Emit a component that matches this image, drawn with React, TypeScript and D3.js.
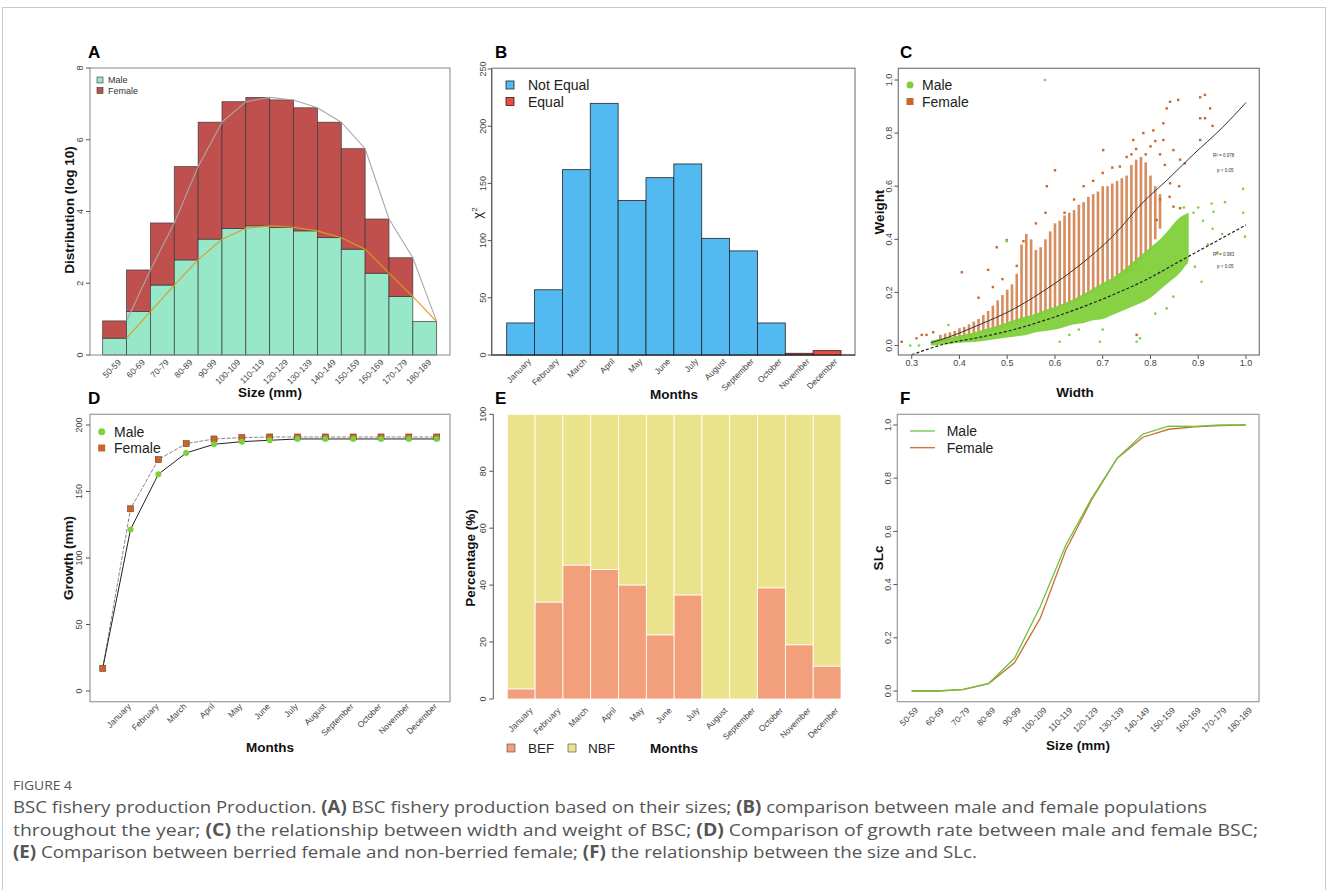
import React from "react";
import * as d3 from "d3";

const FONT = "'Liberation Sans', Arial, Helvetica, sans-serif";

// ---- panel A: size distribution (log10), stacked
const sizeClasses = ["50-59", "60-69", "70-79", "80-89", "90-99", "100-109", "110-119", "120-129", "130-139", "140-149", "150-159", "160-169", "170-179", "180-189"];
const maleDist = [0.47, 1.21, 1.95, 2.65, 3.23, 3.53, 3.6, 3.56, 3.46, 3.27, 2.95, 2.28, 1.63, 0.93];
const femaleDist = [0.48, 1.16, 1.73, 2.6, 3.26, 3.53, 3.58, 3.55, 3.43, 3.22, 2.8, 1.51, 1.08, 0];
const distTicks = [0, 2, 4, 6, 8];

// ---- panel B: chi-square by month
const months = ["January", "February", "March", "April", "May", "June", "July", "August", "September", "October", "November", "December"];
const chiValues = [28, 57, 162, 220, 135, 155, 167, 102, 91, 28, 1.5, 3.8];
const chiGroup = ["Not Equal", "Not Equal", "Not Equal", "Not Equal", "Not Equal", "Not Equal", "Not Equal", "Not Equal", "Not Equal", "Not Equal", "Equal", "Equal"];
const chiTicks = [0, 50, 100, 150, 200, 250];

// ---- panel C: width vs weight
const widthTicks = [0.3, 0.4, 0.5, 0.6, 0.7, 0.8, 0.9, 1.0];
const weightTicks = [0, 0.2, 0.4, 0.6, 0.8, 1.0];
const femBandW = [0.36, 0.37, 0.38, 0.39, 0.40, 0.41, 0.42, 0.43, 0.44, 0.45, 0.46, 0.47, 0.48, 0.49, 0.50, 0.51, 0.52, 0.53, 0.54, 0.55, 0.56, 0.57, 0.58, 0.59, 0.60, 0.61, 0.62, 0.63, 0.64, 0.65, 0.66, 0.67, 0.68, 0.69, 0.70, 0.71, 0.72, 0.73, 0.74, 0.75, 0.76, 0.77, 0.78, 0.79, 0.80, 0.81, 0.82];
const femBandHi = [0.04, 0.045, 0.05, 0.055, 0.065, 0.07, 0.08, 0.09, 0.1, 0.115, 0.13, 0.15, 0.17, 0.19, 0.21, 0.23, 0.27, 0.38, 0.42, 0.4, 0.36, 0.37, 0.4, 0.43, 0.46, 0.47, 0.49, 0.5, 0.51, 0.53, 0.54, 0.56, 0.57, 0.58, 0.6, 0.6, 0.61, 0.62, 0.63, 0.64, 0.68, 0.7, 0.71, 0.69, 0.64, 0.6, 0.57];
const femBandLo = [0.015, 0.018, 0.02, 0.024, 0.028, 0.03, 0.034, 0.038, 0.044, 0.048, 0.052, 0.056, 0.06, 0.065, 0.07, 0.075, 0.08, 0.085, 0.09, 0.095, 0.1, 0.11, 0.12, 0.125, 0.13, 0.14, 0.15, 0.155, 0.16, 0.17, 0.18, 0.19, 0.2, 0.21, 0.22, 0.23, 0.24, 0.25, 0.26, 0.27, 0.28, 0.3, 0.32, 0.34, 0.36, 0.4, 0.44];
const maleBandW = [0.34, 0.36, 0.38, 0.40, 0.42, 0.44, 0.46, 0.48, 0.50, 0.52, 0.54, 0.56, 0.58, 0.60, 0.62, 0.64, 0.66, 0.68, 0.70, 0.72, 0.74, 0.76, 0.78, 0.80, 0.82, 0.84, 0.86, 0.88];
const maleBandLo = [0.0, 0.003, 0.006, 0.01, 0.012, 0.015, 0.02, 0.025, 0.03, 0.035, 0.04, 0.05, 0.055, 0.06, 0.07, 0.08, 0.085, 0.095, 0.1, 0.115, 0.13, 0.145, 0.16, 0.18, 0.21, 0.24, 0.27, 0.32];
const maleBandHi = [0.018, 0.025, 0.03, 0.038, 0.045, 0.055, 0.065, 0.075, 0.088, 0.1, 0.11, 0.12, 0.135, 0.145, 0.16, 0.175, 0.195, 0.215, 0.235, 0.255, 0.28, 0.31, 0.34, 0.37, 0.4, 0.44, 0.48, 0.5];
const femPtsW = [0.279, 0.31, 0.321, 0.331, 0.345, 0.405, 0.46, 0.478, 0.499, 0.534, 0.44, 0.47, 0.49, 0.52, 0.583, 0.6, 0.62, 0.64, 0.701, 0.736, 0.75, 0.764, 0.785, 0.806, 0.827, 0.834, 0.841, 0.858, 0.904, 0.914, 0.904, 0.914, 0.925, 0.93, 0.904, 0.827, 0.848, 0.862, 0.872, 0.841, 0.848, 0.862, 0.813, 0.771, 0.8, 0.79, 0.82, 0.81, 0.77, 0.76, 0.83, 0.82, 0.84, 0.86, 0.7, 0.72, 0.68, 0.66, 0.58, 0.56];
const femPtsH = [0.014, 0.027, 0.04, 0.04, 0.05, 0.276, 0.285, 0.37, 0.397, 0.393, 0.18, 0.22, 0.25, 0.3, 0.6, 0.66, 0.5, 0.55, 0.736, 0.674, 0.71, 0.774, 0.8, 0.81, 0.837, 0.893, 0.918, 0.925, 0.935, 0.944, 0.856, 0.856, 0.893, 0.827, 0.774, 0.774, 0.736, 0.7, 0.686, 0.611, 0.523, 0.517, 0.473, 0.04, 0.75, 0.72, 0.72, 0.77, 0.74, 0.72, 0.68, 0.55, 0.56, 0.6, 0.65, 0.67, 0.62, 0.6, 0.5, 0.46];
const malePtsW = [0.579, 0.499, 0.377, 0.297, 0.315, 0.994, 0.994, 0.998, 0.956, 0.932, 0.928, 0.907, 0.893, 0.875, 0.848, 0.834, 0.81, 0.771, 0.778, 0.694, 0.63, 0.61, 0.7, 0.65, 0.9, 0.91, 0.93, 0.95, 0.89, 0.87, 0.92, 0.94];
const malePtsH = [1.0, 0.393, 0.077, 0.0, 0.0, 0.59, 0.5, 0.41, 0.54, 0.504, 0.535, 0.24, 0.297, 0.31, 0.184, 0.14, 0.12, 0.014, 0.027, 0.014, 0.04, 0.014, 0.06, 0.06, 0.52, 0.47, 0.44, 0.42, 0.5, 0.52, 0.38, 0.35];
const femCurveW = [0.34, 0.37, 0.44, 0.51, 0.58, 0.65, 0.72, 0.79, 0.83, 0.89, 0.95, 1.0];
const femCurveH = [0.01, 0.027, 0.077, 0.134, 0.21, 0.3, 0.41, 0.55, 0.615, 0.72, 0.82, 0.915];
const maleCurveW = [0.3, 0.37, 0.44, 0.51, 0.58, 0.65, 0.72, 0.79, 0.86, 0.93, 1.0];
const maleCurveH = [-0.035, 0.006, 0.03, 0.058, 0.096, 0.14, 0.19, 0.247, 0.316, 0.385, 0.454];

// ---- panel D: growth
const growthLabels = ["", ...months];
const growthFemale = [17, 137, 174, 186, 189.5, 190.5, 191, 191, 191, 191, 191, 191, 191];
const growthMale = [17, 121.5, 163, 179, 185.5, 187.5, 188.5, 189.5, 189.5, 189.5, 189.5, 189.5, 189.5];
const growthTicks = [0, 50, 100, 150, 200];

// ---- panel E: berried vs non-berried (%)
const befPct = [3.5, 34, 47, 45.5, 40, 22.5, 36.5, 0, 0, 39, 19, 11.5];
const pctTicks = [0, 20, 40, 60, 80, 100];

// ---- panel F: SLc
const slcMale = [0, 0, 0.006, 0.029, 0.123, 0.317, 0.549, 0.724, 0.875, 0.966, 0.996, 0.995, 1.0, 1.0];
const slcFemale = [0, 0, 0.005, 0.028, 0.106, 0.273, 0.53, 0.718, 0.875, 0.954, 0.984, 0.993, 0.998, 1.0];
const slcTicks = [0, 0.2, 0.4, 0.6, 0.8, 1.0];

const GREEN = "#7fcf3a";
const BROWN = "#c8662c";

const YAxis = ({ x, scale, ticks, labelX, fmt = (t: number) => String(t), line = true }: any) => (
  <g>
    {line && <line x1={x} x2={x} y1={scale(ticks[0])} y2={scale(ticks[ticks.length - 1])} stroke="#555" />}
    {ticks.map((t: number) => (
      <g key={t}>
        <line x1={x - 4} x2={x} y1={scale(t)} y2={scale(t)} stroke="#555" />
        <text transform={`translate(${labelX},${scale(t)}) rotate(-90)`} textAnchor="middle" dy="0.35em" fontSize={9} fill="#444">{fmt(t)}</text>
      </g>
    ))}
  </g>
);

const YTitle = ({ x, y, children }: any) => (
  <text transform={`translate(${x},${y}) rotate(-90)`} textAnchor="middle" dy="0.35em" fontSize={13.5} fontWeight="bold" fill="#111">{children}</text>
);

const XTitle = ({ x, y, children }: any) => (
  <text x={x} y={y} textAnchor="middle" fontSize={13.5} fontWeight="bold" fill="#111">{children}</text>
);

const SlantLabels = ({ labels, pos, dx, y }: any) => (
  <g>
    {labels.map((l: string, i: number) => (
      <text key={i} transform={`translate(${pos(i) + dx},${y}) rotate(-45)`} textAnchor="end" fontSize={8.5} fill="#444">{l}</text>
    ))}
  </g>
);

const PanelLetter = ({ x, y, children }: any) => (
  <text x={x} y={y} fontSize={17} fontWeight="bold" fill="#000">{children}</text>
);

const PanelA = () => {
  const x = d3.scaleBand().domain(sizeClasses).range([102.7, 436.7]);
  const y = d3.scaleLinear().domain([0, 8]).range([355, 68]);
  const edge = (i: number) => (x(sizeClasses[i]) as number) + x.bandwidth();
  const total = maleDist.map((m, i) => m + femaleDist[i]);
  const line = d3.line<number>().x((_, i) => edge(i)).y((d) => y(d));
  return (
    <g>
      <PanelLetter x={88} y={58}>A</PanelLetter>
      {sizeClasses.map((s, i) => (
        <g key={s}>
          <rect x={x(s)} y={y(maleDist[i])} width={x.bandwidth()} height={y(0) - y(maleDist[i])} fill="#97e8c8" stroke="#3a3a3a" strokeWidth={0.7} />
          {femaleDist[i] > 0 && (
            <rect x={x(s)} y={y(total[i])} width={x.bandwidth()} height={y(maleDist[i]) - y(total[i])} fill="#c0504e" stroke="#3a3a3a" strokeWidth={0.7} />
          )}
        </g>
      ))}
      <path d={line(total) as string} fill="none" stroke="#a8a8a8" strokeWidth={1.1} />
      <path d={line(maleDist) as string} fill="none" stroke="#e09a22" strokeWidth={1.1} />
      <rect x={90} y={68} width={360} height={287} fill="none" stroke="#888" />
      <YAxis x={90} scale={y} ticks={distTicks} labelX={80} line={false} />
      <SlantLabels labels={sizeClasses} pos={(i: number) => (x(sizeClasses[i]) as number) + x.bandwidth() / 2} dx={7} y={363} />
      <rect x={97} y={77} width={6} height={6} fill="#97e8c8" stroke="#333" strokeWidth={0.6} />
      <text x={108} y={83} fontSize={9} fill="#333">Male</text>
      <rect x={97} y={87.5} width={6} height={6} fill="#c0504e" stroke="#333" strokeWidth={0.6} />
      <text x={108} y={93.5} fontSize={9} fill="#333">Female</text>
      <YTitle x={69} y={210}>Distribution (log 10)</YTitle>
      <XTitle x={270} y={397}>Size (mm)</XTitle>
    </g>
  );
};

const PanelB = () => {
  const x = d3.scaleBand().domain(months).range([506.7, 841]);
  const y = d3.scaleLinear().domain([0, 250]).range([355, 69]);
  const color = (g: string) => (g === "Equal" ? "#ef4a3f" : "#53baf1");
  return (
    <g>
      <PanelLetter x={495} y={58}>B</PanelLetter>
      <rect x={491.7} y={68.3} width={363.3} height={286.7} fill="none" stroke="#999" strokeWidth={1.5} />
      {months.map((m, i) => (
        <rect key={m} x={x(m)} y={y(chiValues[i])} width={x.bandwidth()} height={y(0) - y(chiValues[i])} fill={color(chiGroup[i])} stroke="#222" strokeWidth={0.8} />
      ))}
      <line x1={491.7} x2={855} y1={355} y2={355} stroke="#222" />
      <YAxis x={491.7} scale={y} ticks={chiTicks} labelX={483} />
      <SlantLabels labels={months} pos={(i: number) => (x(months[i]) as number) + x.bandwidth() / 2} dx={11} y={362} />
      <rect x={506} y={81} width={8} height={8} fill="#53baf1" stroke="#222" strokeWidth={0.8} />
      <text x={528} y={90} fontSize={14} fill="#222">Not Equal</text>
      <rect x={506} y={97.5} width={8} height={8} fill="#ef4a3f" stroke="#222" strokeWidth={0.8} />
      <text x={528} y={106.5} fontSize={14} fill="#222">Equal</text>
      <text transform="translate(477,213) rotate(-90)" textAnchor="middle" dy="0.35em" fontSize={13} fill="#222">
        χ<tspan fontSize={8} dy="-5">2</tspan>
      </text>
      <XTitle x={674} y={399}>Months</XTitle>
    </g>
  );
};

const PanelC = () => {
  const x = d3.scaleLinear().domain([0.3, 1.0]).range([911.7, 1246]);
  const y = d3.scaleLinear().domain([0, 1]).range([345.5, 80]);
  const maleArea = d3.area<number>().x((_, i) => x(maleBandW[i])).y0((_, i) => y(maleBandLo[i])).y1((d) => y(d)).curve(d3.curveMonotoneX);
  const curve = (ws: number[]) => d3.line<number>().x((_, i) => x(ws[i])).y((d) => y(d)).curve(d3.curveMonotoneX);
  const colW = x(0.3055) - x(0.3);
  return (
    <g>
      <PanelLetter x={900} y={58}>C</PanelLetter>
      <defs>
        <clipPath id="clipC"><rect x={898.3} y={68.3} width={361} height={286.7} /></clipPath>
      </defs>
      <g clipPath="url(#clipC)">
        {femBandW.map((w, i) => (
          <rect key={i} x={x(w) - colW / 2} y={y(femBandHi[i])} width={colW} height={y(femBandLo[i]) - y(femBandHi[i])} fill="#cf7a44" opacity={0.85} />
        ))}
        {femPtsW.map((w, i) => (
          <rect key={"f" + i} x={x(w) - 1.2} y={y(femPtsH[i]) - 1.2} width={2.4} height={2.4} fill={BROWN} />
        ))}
        <path d={maleArea(maleBandHi) as string} fill={GREEN} opacity={0.95} />
        {malePtsW.map((w, i) => (
          <circle key={"m" + i} cx={x(w)} cy={y(malePtsH[i])} r={1.3} fill={GREEN} />
        ))}
        <path d={curve(femCurveW)(femCurveH) as string} fill="none" stroke="#333" strokeWidth={1} />
        <path d={curve(maleCurveW)(maleCurveH) as string} fill="none" stroke="#222" strokeWidth={1.2} strokeDasharray="3,2" />
      </g>
      <rect x={898.3} y={68.3} width={361} height={286.7} fill="none" stroke="#777" strokeWidth={1.2} />
      <YAxis x={898.3} scale={y} ticks={weightTicks} labelX={889} fmt={(t: number) => t.toFixed(1)} line={false} />
      {widthTicks.map((t) => (
        <g key={t}>
          <line x1={x(t)} x2={x(t)} y1={355} y2={359} stroke="#555" />
          <text x={x(t)} y={366} textAnchor="middle" fontSize={9} fill="#444">{t.toFixed(1)}</text>
        </g>
      ))}
      <text x={1213} y={157} fontSize={4.5} fill="#333">R² = 0.978</text>
      <text x={1217} y={172} fontSize={4.5} fill="#333">p &lt; 0.05</text>
      <text x={1213} y={256} fontSize={4.5} fill="#333">R² = 0.983</text>
      <text x={1217} y={268} fontSize={4.5} fill="#333">p &lt; 0.05</text>
      <circle cx={910} cy={85} r={3.5} fill={GREEN} />
      <text x={922} y={90} fontSize={14} fill="#222">Male</text>
      <rect x={906.5} y={98} width={7} height={7} fill={BROWN} />
      <text x={922} y={106.5} fontSize={14} fill="#222">Female</text>
      <YTitle x={879} y={212}>Weight</YTitle>
      <XTitle x={1075} y={397}>Width</XTitle>
    </g>
  );
};

const PanelD = () => {
  const idx = growthLabels.map((_, i) => i);
  const x = d3.scalePoint<number>().domain(idx).range([102.7, 436.7]);
  const y = d3.scaleLinear().domain([0, 200]).range([691, 425]);
  const line = d3.line<number>().x((_, i) => x(i) as number).y((d) => y(d));
  return (
    <g>
      <PanelLetter x={88} y={404}>D</PanelLetter>
      <rect x={90} y={414.3} width={360} height={287.4} fill="none" stroke="#999" strokeWidth={1.2} />
      <path d={line(growthFemale) as string} fill="none" stroke="#888" strokeWidth={1} strokeDasharray="4,1.5" />
      <path d={line(growthMale) as string} fill="none" stroke="#222" strokeWidth={1} />
      {growthFemale.map((v, i) => (
        <rect key={"f" + i} x={(x(i) as number) - 3} y={y(v) - 3} width={6} height={6} fill={BROWN} stroke="#7a3a14" strokeWidth={0.6} />
      ))}
      {growthMale.map((v, i) => (i === 0 ? null : <circle key={"m" + i} cx={x(i)} cy={y(v)} r={3} fill={GREEN} />))}
      <YAxis x={90} scale={y} ticks={growthTicks} labelX={79} line={false} />
      <SlantLabels labels={growthLabels} pos={(i: number) => x(i) as number} dx={1} y={707} />
      <circle cx={101.7} cy={431.7} r={3.5} fill={GREEN} />
      <text x={114} y={436.5} fontSize={14} fill="#222">Male</text>
      <rect x={98.2} y={444.5} width={7} height={7} fill={BROWN} />
      <text x={114} y={453} fontSize={14} fill="#222">Female</text>
      <YTitle x={68} y={558}>Growth (mm)</YTitle>
      <XTitle x={270} y={752}>Months</XTitle>
    </g>
  );
};

const PanelE = () => {
  const x = d3.scaleBand().domain(months).range([507.3, 841]);
  const y = d3.scaleLinear().domain([0, 100]).range([699, 414.3]);
  return (
    <g>
      <PanelLetter x={495} y={404}>E</PanelLetter>
      {months.map((m, i) => (
        <g key={m}>
          <rect x={x(m)} y={y(100)} width={x.bandwidth()} height={y(befPct[i]) - y(100)} fill="#ebe38c" stroke="#fff" strokeWidth={0.8} />
          {befPct[i] > 0 && (
            <rect x={x(m)} y={y(befPct[i])} width={x.bandwidth()} height={y(0) - y(befPct[i])} fill="#f2a07c" stroke="#fff" strokeWidth={0.8} />
          )}
        </g>
      ))}
      <YAxis x={493.3} scale={y} ticks={pctTicks} labelX={483} />
      <SlantLabels labels={months} pos={(i: number) => (x(months[i]) as number) + x.bandwidth() / 2} dx={12} y={711} />
      <rect x={507} y={744} width={8} height={8} fill="#f2a07c" stroke="#444" strokeWidth={0.6} />
      <text x={528} y={752.5} fontSize={13.5} fill="#222">BEF</text>
      <rect x={568} y={744} width={8} height={8} fill="#ebe38c" stroke="#444" strokeWidth={0.6} />
      <text x={588} y={752.5} fontSize={13.5} fill="#222">NBF</text>
      <YTitle x={470} y={558}>Percentage (%)</YTitle>
      <XTitle x={674} y={752.5}>Months</XTitle>
    </g>
  );
};

const PanelF = () => {
  const x = d3.scalePoint().domain(sizeClasses).range([911.7, 1245.7]);
  const y = d3.scaleLinear().domain([0, 1]).range([691, 425]);
  const line = d3.line<number>().x((_, i) => x(sizeClasses[i]) as number).y((d) => y(d));
  return (
    <g>
      <PanelLetter x={900} y={404}>F</PanelLetter>
      <rect x={897.3} y={414.3} width={361.7} height={287.4} fill="none" stroke="#999" strokeWidth={1.2} />
      <path d={line(slcFemale) as string} fill="none" stroke="#c8703a" strokeWidth={1.3} />
      <path d={line(slcMale) as string} fill="none" stroke="#6fc43c" strokeWidth={1.3} />
      <YAxis x={897.3} scale={y} ticks={slcTicks} labelX={888} fmt={(t: number) => t.toFixed(1)} line={false} />
      <SlantLabels labels={sizeClasses} pos={(i: number) => x(sizeClasses[i]) as number} dx={7} y={711} />
      <line x1={910} x2={935} y1={431} y2={431} stroke="#6fc43c" strokeWidth={1.3} />
      <text x={946.7} y={436} fontSize={14} fill="#222">Male</text>
      <line x1={910} x2={935} y1={447.7} y2={447.7} stroke="#c8703a" strokeWidth={1.3} />
      <text x={946.7} y={452.7} fontSize={14} fill="#222">Female</text>
      <YTitle x={878} y={558}>SLc</YTitle>
      <XTitle x={1078} y={750}>Size (mm)</XTitle>
    </g>
  );
};

const Caption = () => (
  <g fontFamily="'Open Sans', 'Noto Sans', sans-serif" fill="#555">
    <text x={13} y={790} fontSize={12} textLength={59} lengthAdjust="spacingAndGlyphs">FIGURE 4</text>
    <text x={13} y={813} fontSize={17} textLength={1194} lengthAdjust="spacingAndGlyphs">
      BSC fishery production Production. <tspan fontWeight="bold">(A)</tspan> BSC fishery production based on their sizes; <tspan fontWeight="bold">(B)</tspan> comparison between male and female populations
    </text>
    <text x={13} y={836} fontSize={17} textLength={1245} lengthAdjust="spacingAndGlyphs">
      throughout the year; <tspan fontWeight="bold">(C)</tspan> the relationship between width and weight of BSC; <tspan fontWeight="bold">(D)</tspan> Comparison of growth rate between male and female BSC;
    </text>
    <text x={13} y={858} fontSize={17} textLength={964} lengthAdjust="spacingAndGlyphs">
      <tspan fontWeight="bold">(E)</tspan> Comparison between berried female and non-berried female; <tspan fontWeight="bold">(F)</tspan> the relationship between the size and SLc.
    </text>
  </g>
);

export default function App() {
  return (
    <svg width={1328} height={890} style={{ position: "absolute", left: 0, top: 0 }} fontFamily={FONT}>
      <rect x={0} y={0} width={1328} height={890} fill="#fff" />
      <rect x={2.5} y={7.5} width={1323} height={900} fill="none" stroke="#c8c8c8" />
      <PanelA />
      <PanelB />
      <PanelC />
      <PanelD />
      <PanelE />
      <PanelF />
      <Caption />
    </svg>
  );
}
